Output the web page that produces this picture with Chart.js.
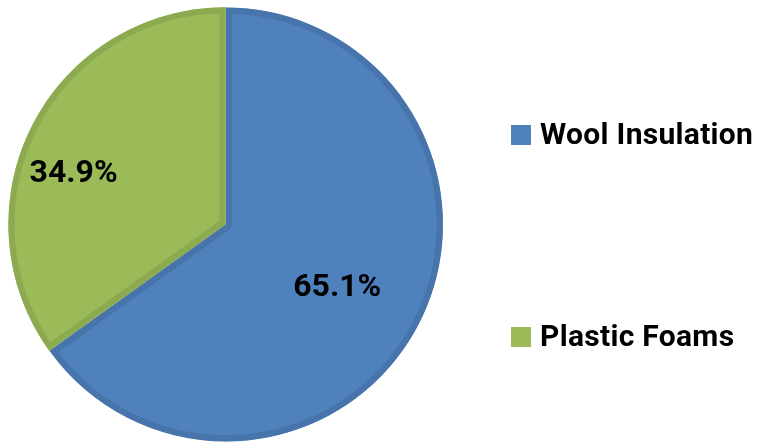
<!DOCTYPE html>
<html><head><meta charset="utf-8">
<script src="https://cdn.jsdelivr.net/npm/chart.js@4"></script>
<style>html,body{margin:0;padding:0;background:#fff}#wrap{width:763px;height:443px}</style>
</head><body><div id="wrap"><canvas id="c"></canvas></div>
<script>
const categories = ["Wool Insulation", "Plastic Foams"];
const shares = [65.1, 34.9];
const fillColors = ["#4F81BD", "#9BBB59"];
const bandColors = ["#4774AA", "#8CAA50"];

const FONT = "Roboto";

const labelPlugin = {
  id: "pctLabels",
  afterDatasetsDraw(chart) {
    const ctx = chart.ctx;
    const meta = chart.getDatasetMeta(0);
    const factors = [0.59, 0.74];
    const shifts = [2.5, -8.9];
    ctx.save();
    ctx.font = "bold 32px " + FONT;
    ctx.fillStyle = "#000";
    ctx.textAlign = "center";
    ctx.textBaseline = "middle";
    meta.data.forEach((arc, i) => {
      const p = arc.getProps(["x","y","startAngle","endAngle","outerRadius"], true);
      const mid = (p.startAngle + p.endAngle) / 2 + shifts[i] * Math.PI / 180;
      const r = p.outerRadius * factors[i];
      ctx.fillText(shares[i].toFixed(1) + "%", p.x + Math.cos(mid) * r, p.y + Math.sin(mid) * r);
    });
    ctx.restore();
  }
};

const legendPlugin = {
  id: "sideLegend",
  afterDraw(chart) {
    const ctx = chart.ctx;
    const rows = [135, 337];
    ctx.save();
    ctx.font = "bold 30px " + FONT;
    ctx.letterSpacing = "0.3px";
    ctx.textBaseline = "middle";
    ctx.textAlign = "left";
    categories.forEach((name, i) => {
      ctx.fillStyle = fillColors[i];
      ctx.fillRect(511, rows[i] - 10, 20, 20);
      ctx.fillStyle = "#000";
      ctx.fillText(name, 540, rows[i] + 1);
    });
    ctx.restore();
  }
};

new Chart(document.getElementById("c"), {
  type: "pie",
  data: {
    labels: categories,
    datasets: [{
      data: shares,
      backgroundColor: fillColors,
      borderColor: bandColors,
      borderWidth: 6,
      borderAlign: "inner",
      offset: [0, 3]
    }]
  },
  options: {
    responsive: true,
    maintainAspectRatio: false,
    animation: false,
    layout: { padding: { left: 5, right: 316, top: 6, bottom: -3 } },
    plugins: { legend: { display: false }, tooltip: { enabled: false } }
  },
  plugins: [labelPlugin, legendPlugin]
});
</script></body></html>
